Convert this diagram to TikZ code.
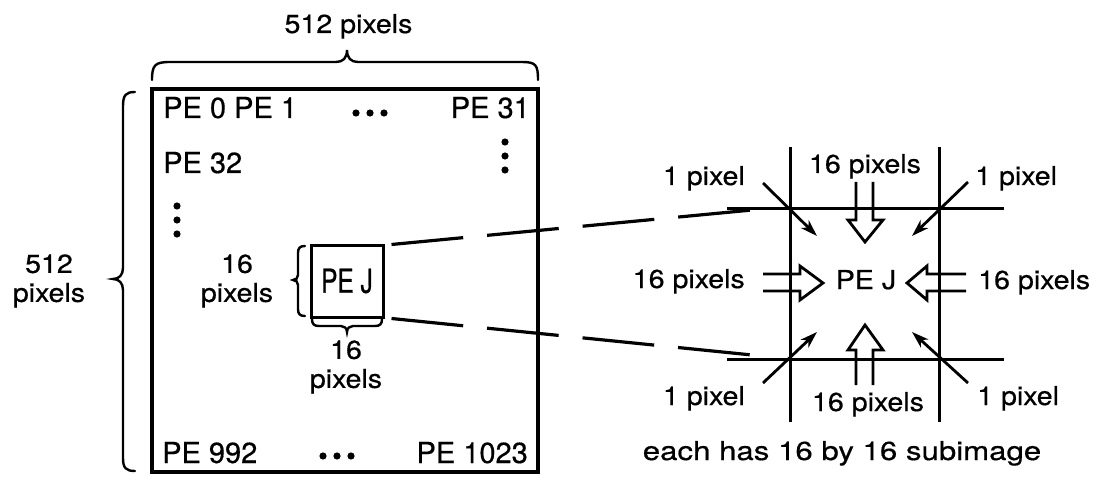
\documentclass[tikz,border=0pt]{standalone}
\usepackage{fontspec}
\usepackage{graphicx}
\usetikzlibrary{arrows.meta}
\newfontfamily\lbl[FakeStretch=1.1,FakeBold=0.5]{TeX Gyre Heros}
\newfontfamily\lblw[FakeStretch=1.2,FakeBold=0.5]{TeX Gyre Heros}
\newfontfamily\lblb[FakeBold=0.5]{TeX Gyre Heros}
\begin{document}
\begin{tikzpicture}[x=1pt,y=-1pt,
  txt/.style={inner sep=0pt, font=\lbl\fontsize{26}{29}\selectfont},
  boxtxt/.style={inner sep=0pt, font=\lblb\fontsize{29}{32}\selectfont},
  bracestyle/.style={line width=2.4pt, line cap=round},
  gridline/.style={line width=3pt},
  dashline/.style={line width=3.2pt, dash pattern=on 72pt off 24pt},
  thinarrow/.style={line width=2.8pt, -{Stealth[length=17pt,width=11pt,inset=5pt]}},
  blockarrow/.style={line width=2.8pt, line join=miter},
  dotmark/.style={fill=black}]
\useasboundingbox (0,0) rectangle (1104,492);

% main grid box
\node[draw, line width=3.4pt, minimum width=386pt, minimum height=383pt, inner sep=0pt] (grid) at (345,280.5) {};
\node[boxtxt, anchor=base west] (pe0) at (163,118) {PE 0 PE 1};
\node[boxtxt, anchor=base east] (pe31) at (530,118) {PE 31};
\node[boxtxt, anchor=base west] (pe32) at (163,173) {PE 32};
\node[boxtxt, anchor=base west] (pe992) at (162,463) {PE 992};
\node[boxtxt, anchor=base east] (pe1023) at (528,463) {PE 1023};
% dots
\foreach \x in {356,370,384} \fill[dotmark] (\x,113) circle (3.6pt);
\foreach \y in {142,156,170} \fill[dotmark] (505,\y) circle (3.6pt);
\foreach \y in {206,220,234} \fill[dotmark] (177,\y) circle (3.6pt);
\foreach \x in {323,337,351} \fill[dotmark] (\x,456) circle (3.6pt);

% small PE J box
\node[draw, line width=3pt, minimum width=72pt, minimum height=72pt, inner sep=0pt,
  font=\lblb\fontsize{33}{36}\selectfont] (pej) at (347,281) {\scalebox{0.74}[1]{PE J}};

% braces
\draw[bracestyle] (152,80) .. controls (152,65) and (155,62) .. (170,62) -- (336,62)
  .. controls (343,62) and (347,58) .. (347,50) .. controls (347,58) and (351,62) .. (358,62)
  -- (522,62) .. controls (536,62) and (538,65) .. (538,80);
\draw[bracestyle] (135,92) .. controls (126,92) and (123,95) .. (123,106) -- (123,268)
  .. controls (123,275) and (119,279) .. (113,279) .. controls (119,279) and (123,283) .. (123,290)
  -- (123,458) .. controls (123,468) and (126,471) .. (135,471);
\draw[bracestyle] (305,246) .. controls (300,246) and (298,248) .. (298,253) -- (298,275)
  .. controls (298,278) and (296,280) .. (293,280) .. controls (296,280) and (298,282) .. (298,285)
  -- (298,309) .. controls (298,314) and (300,316) .. (305,316);
\draw[bracestyle] (312,319) .. controls (312,324) and (314,326) .. (319,326) -- (341,326)
  .. controls (344,326) and (347,328) .. (347,332) .. controls (347,328) and (350,326) .. (353,326)
  -- (375,326) .. controls (380,326) and (382,324) .. (382,319);

% labels left
\node[txt, anchor=base] (toplbl) at (348.5,33) {512 pixels};
\node[txt, align=center] (leftlbl) at (49,281) {512\\pixels};
\node[txt, align=center] (smlbl) at (237,281) {16\\pixels};
\node[txt, align=center] (smbot) at (346,367) {16\\pixels};

% zoomed view frame
\coordinate (zt) at (752,210);
\coordinate (zb) at (752,355);
\draw[gridline] (727,209) -- (1004,209);
\draw[gridline] (727,359) -- (1004,359);
\draw[gridline] (790,147) -- (790,422);
\draw[gridline] (939,147) -- (939,422);

% dashed connectors
\draw[dashline] ([xshift=7pt,yshift=-1pt]pej.north east) -- (zt);
\draw[dashline] ([xshift=7pt]pej.south east) -- (zb);

% center label
\node[txt, anchor=base] (pejz) at (866,289) {PE J};

% thin arrows
\coordinate (a1s) at (763,183); \coordinate (a1e) at (817,236);
\coordinate (a2s) at (968,182); \coordinate (a2e) at (912,236);
\coordinate (a3s) at (763,383); \coordinate (a3e) at (817,332);
\coordinate (a4s) at (968,383); \coordinate (a4e) at (912,332);
\draw[thinarrow] (a1s) -- (a1e);
\draw[thinarrow] (a2s) -- (a2e);
\draw[thinarrow] (a3s) -- (a3e);
\draw[thinarrow] (a4s) -- (a4e);

% block arrows
\draw[blockarrow] (856,182) -- (856,220) -- (848,220) -- (865,242) -- (883,220) -- (873,220) -- (873,182);
\draw[blockarrow] (856,385) -- (856,350) -- (848,350) -- (865,325) -- (883,350) -- (873,350) -- (873,385);
\draw[blockarrow] (763,274) -- (800,274) -- (800,266) -- (823,283) -- (800,300) -- (800,291) -- (763,291);
\draw[blockarrow] (966,274) -- (927,274) -- (927,266) -- (907,283) -- (927,300) -- (927,291) -- (966,291);

% right labels
\node[txt, anchor=base] (t16) at (865,173) {16 pixels};
\node[txt, anchor=base] (b16) at (868,411) {16 pixels};
\node[txt, anchor=base east] (l16) at (745,288) {16 pixels};
\node[txt, anchor=base west] (r16) at (978,289) {16 pixels};
\node[txt, anchor=base east] (tl1) at (745,185) {1 pixel};
\node[txt, anchor=base west] (tr1) at (975,185) {1 pixel};
\node[txt, anchor=base east] (bl1) at (745,405) {1 pixel};
\node[txt, anchor=base west] (br1) at (977,405) {1 pixel};
\node[inner sep=0pt, font=\lblw\fontsize{26}{29}\selectfont, anchor=base] (cap) at (842,460) {each has 16 by 16 subimage};
\end{tikzpicture}
\end{document}
